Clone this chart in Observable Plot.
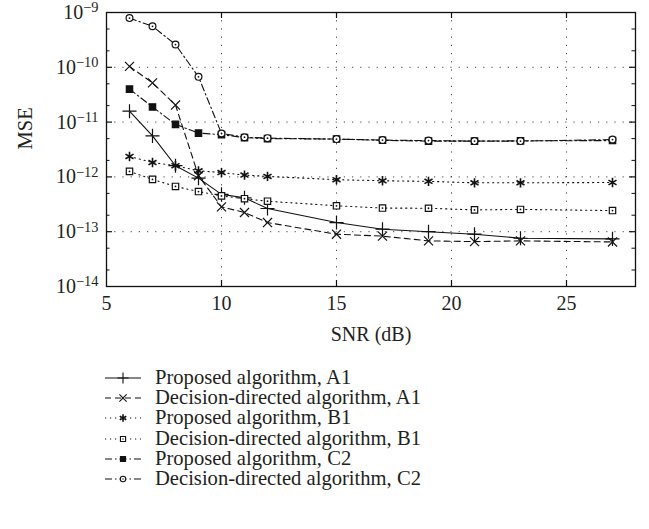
<!DOCTYPE html>
<html><head><meta charset="utf-8">
<script src="https://cdn.jsdelivr.net/npm/d3@7"></script>
<script src="https://cdn.jsdelivr.net/npm/@observablehq/plot@0.6"></script>
<style>
body{margin:0;background:#fff;font-family:"Liberation Serif","Times New Roman","DejaVu Serif",serif;color:#231f20}
#legend{position:relative;width:649px;height:169px}
.row{position:absolute;left:0;height:20px;white-space:nowrap}
.row svg{position:absolute;left:100px;top:0}
.row span{position:absolute;left:155px;top:0;font-size:20.6px;line-height:19px;height:19px}
</style></head><body><div id="chart"></div><div id="legend"></div>
<script>
// ---- data ----
const snr = [6, 7, 8, 9, 10, 11, 12, 15, 17, 19, 21, 23, 27];
const proposedA1 = [1.58e-11, 5.6e-12, 1.6e-12, 9.5e-13, 4.8e-13, 4.15e-13, 2.65e-13, 1.47e-13, 1.11e-13, 1.0e-13, 9.0e-14, 7.6e-14, 7.4e-14];
const decisionA1 = [1.04e-10, 5.2e-11, 2.05e-11, 1.05e-12, 2.84e-13, 2.24e-13, 1.47e-13, 9.0e-14, 8.3e-14, 6.8e-14, 6.6e-14, 6.8e-14, 6.5e-14];
const proposedB1 = [2.36e-12, 1.83e-12, 1.6e-12, 1.29e-12, 1.2e-12, 1.08e-12, 1.02e-12, 8.9e-13, 8.5e-13, 8.3e-13, 7.8e-13, 7.8e-13, 7.9e-13];
const decisionB1 = [1.26e-12, 9.0e-13, 6.7e-13, 5.4e-13, 4.5e-13, 4.0e-13, 3.6e-13, 2.97e-13, 2.7e-13, 2.68e-13, 2.5e-13, 2.55e-13, 2.43e-13];
const proposedC2 = [4.0e-11, 1.89e-11, 9.1e-12, 6.3e-12, 5.9e-12, 5.2e-12, 5.0e-12, 4.9e-12, 4.65e-12, 4.5e-12, 4.5e-12, 4.55e-12, 4.6e-12];
const decisionC2 = [7.9e-10, 5.6e-10, 2.6e-10, 6.7e-11, 6.2e-12, 5.3e-12, 5.1e-12, 4.9e-12, 4.7e-12, 4.6e-12, 4.5e-12, 4.5e-12, 4.8e-12];
const seriesNames = ["Proposed algorithm, A1", "Decision-directed algorithm, A1", "Proposed algorithm, B1", "Decision-directed algorithm, B1", "Proposed algorithm, C2", "Decision-directed algorithm, C2"];
const xTicks = [5, 10, 15, 20, 25];
const yTicks = [1e-14, 1e-13, 1e-12, 1e-11, 1e-10, 1e-9];
const yTickLabels = ["10^−14", "10^−13", "10^−12", "10^−11", "10^−10", "10^−9"];
const xLabel = "SNR (dB)";
const yLabel = "MSE";

// ---- styles ----
const FONT = "'Liberation Serif', 'Times New Roman', 'DejaVu Serif', serif";
const seriesValues = [proposedA1, decisionA1, proposedB1, decisionB1, proposedC2, decisionC2];
const styles = [
  {dash: null, symbol: "plus", r: 4.6, fill: "none", center: false},
  {dash: "6,4", symbol: "times", r: 4.2, fill: "none", center: false},
  {dash: "1.2,3.8", symbol: "asterisk", r: 4.4, fill: "none", center: false, sw: 1.6},
  {dash: "1.2,3.8", symbol: "square", r: 3.6, fill: "white", center: true},
  {dash: "7,3,1.5,3", symbol: "square", r: 3.6, fill: "#111", center: false},
  {dash: "7,3,1.5,3", symbol: "circle", r: 3.4, fill: "white", center: true}
];
const W = 649, H = 360, ML = 106, MR = 14, MT = 12, MB = 74;
const FW = W - ML - MR, FH = H - MT - MB;
const MAJ = 6, MIN = 3.5;

const series = seriesNames.map((name, k) => ({name, k, points: snr.map((x, i) => ({x, y: seriesValues[k][i], name}))}));
const minor = [];
for (let e = -14; e < -9; e++) { minor.push(2 * 10 ** e, 5 * 10 ** e); }
const innerX = [10, 15, 20, 25];
const innerY = yTicks.slice(1, -1);

const marks = [
  Plot.gridX(innerX, {stroke: "#444", strokeOpacity: 1, strokeWidth: 1, strokeDasharray: "1.2,7"}),
  Plot.gridY(innerY, {stroke: "#444", strokeOpacity: 1, strokeWidth: 1, strokeDasharray: "1.2,7"}),
  // inward tick marks on all four sides
  Plot.tickX(innerX, {x: d => d, stroke: "#111", strokeWidth: 1.2, insetTop: FH - MAJ}),
  Plot.tickX(innerX, {x: d => d, stroke: "#111", strokeWidth: 1.2, insetBottom: FH - MAJ}),
  Plot.tickY(innerY, {y: d => d, stroke: "#111", strokeWidth: 1.2, insetRight: FW - MAJ}),
  Plot.tickY(innerY, {y: d => d, stroke: "#111", strokeWidth: 1.2, insetLeft: FW - MAJ}),
  Plot.tickY(minor, {y: d => d, stroke: "#111", strokeWidth: 1, insetRight: FW - MIN}),
  Plot.tickY(minor, {y: d => d, stroke: "#111", strokeWidth: 1, insetLeft: FW - MIN}),
  Plot.axisX(xTicks, {anchor: "bottom", tickSize: 0, tickPadding: 9, label: null, fontSize: 20, fill: "#231f20", tickFormat: d => String(d)}),
  Plot.axisY(yTicks, {anchor: "left", tickSize: 0, tickPadding: 8, label: null, fontSize: 20, fill: "#231f20", tickFormat: d => yTickLabels[yTicks.indexOf(d)]}),
  Plot.text([xLabel], {frameAnchor: "bottom", dy: 54, fontSize: 20, fill: "#231f20", text: d => d}),
  Plot.text([yLabel], {frameAnchor: "left", dx: -81, rotate: -90, fontSize: 20.5, fill: "#231f20", text: d => d})
];
for (const s of series) {
  const st = styles[s.k];
  marks.push(Plot.line(s.points, {x: "x", y: "y", stroke: "#111", strokeWidth: 1.1, strokeDasharray: st.dash}));
}
for (const s of series) {
  const st = styles[s.k];
  marks.push(Plot.dot(s.points, {x: "x", y: "y", symbol: st.symbol, r: st.r, stroke: "#111", fill: st.fill, strokeWidth: st.sw || 1.2}));
  if (st.center) marks.push(Plot.dot(s.points, {x: "x", y: "y", r: 0.9, fill: "#111", stroke: "none"}));
}
marks.push(Plot.frame({stroke: "#111", strokeWidth: 1.3}));

const chart = Plot.plot({
  width: W, height: H,
  marginLeft: ML, marginRight: MR, marginTop: MT, marginBottom: MB,
  style: {fontFamily: FONT, background: "white", color: "#231f20"},
  x: {domain: [5, 28]},
  y: {type: "log", domain: [1e-14, 1e-9]},
  marks
});
document.getElementById("chart").appendChild(chart);
d3.select(chart).selectAll("text").attr("font-family", FONT);

// superscript exponents in y tick labels
d3.select(chart).selectAll("text").each(function () {
  const t = this.textContent;
  if (t.startsWith("10^")) {
    const sel = d3.select(this);
    sel.text("");
    sel.append("tspan").text("10");
    sel.append("tspan").attr("dy", "-0.45em").attr("font-size", "0.72em").text(t.slice(3));
  }
});

// legend
const legend = d3.select("#legend");
series.forEach((s, i) => {
  const st = styles[s.k];
  const row = legend.append("div").attr("class", "row").style("top", (8 + i * 20.2) + "px");
  const svg = row.append("svg").attr("width", 50).attr("height", 20);
  svg.append("line").attr("x1", 5).attr("x2", 41).attr("y1", 10).attr("y2", 10)
    .attr("stroke", "#111").attr("stroke-width", 1.1).attr("stroke-dasharray", st.dash);
  const types = {plus: d3.symbolPlus, times: d3.symbolTimes, asterisk: d3.symbolAsterisk, square: d3.symbolSquare, circle: d3.symbolCircle};
  const rr = st.r * 0.8;
  svg.append("path").attr("transform", "translate(23,10)")
    .attr("d", d3.symbol(types[st.symbol], Math.PI * rr * rr)())
    .attr("stroke", "#111").attr("stroke-width", st.sw || 1.1).attr("fill", st.fill);
  if (st.center) svg.append("circle").attr("cx", 23).attr("cy", 10).attr("r", 0.7).attr("fill", "#111");
  row.append("span").text(s.name);
});
</script></body></html>
